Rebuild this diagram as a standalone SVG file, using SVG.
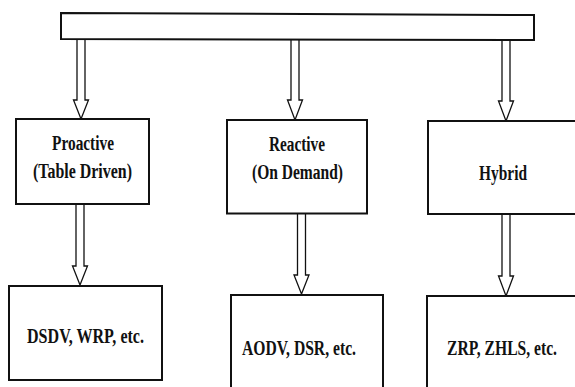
<svg xmlns="http://www.w3.org/2000/svg" width="575" height="387" viewBox="0 0 575 387">
  <style>
    .box { fill: #ffffff; stroke: #111111; stroke-width: 2; }
    .arrow { fill: #ffffff; stroke: #111111; stroke-width: 1.3; stroke-linejoin: miter; }
    .lbl { font-family: "Liberation Serif", "Times New Roman", serif; font-weight: bold; font-size: 22px; fill: #111111; text-anchor: middle; }
  </style>
  <rect width="575" height="387" fill="#ffffff"/>

  <!-- connectors: hollow block arrows -->
  <g id="connectors">
    <path class="arrow" d="M77,40 V100 H73.5 L81,119 L88.5,100 H85 V40"/>
    <path class="arrow" d="M291,40 V100 H287.5 L295,120 L302.5,100 H299 V40"/>
    <path class="arrow" d="M502,40 V101 H498.5 L506,121 L513.5,101 H510 V40"/>
    <path class="arrow" d="M76,204 V266 H72.5 L80,285 L87.5,266 H84 V204"/>
    <path class="arrow" d="M297.5,214 V275 H294 L301.5,294 L309,275 H305.5 V214"/>
    <path class="arrow" d="M502,214 V276 H498.5 L506,296 L513.5,276 H510 V214"/>
  </g>

  <!-- root bar -->
  <g id="root">
    <polygon class="box" points="61,13 534,15 534,40 61,39"/>
  </g>

  <!-- labels use a condensed (x-scaled) bold serif -->
  <g id="proactive">
    <rect class="box" x="16" y="119" width="133" height="85"/>
    <text class="lbl" transform="translate(83,150) scale(0.72,1)" textLength="86" lengthAdjust="spacingAndGlyphs">Proactive</text>
    <text class="lbl" transform="translate(82.5,178) scale(0.72,1)" textLength="137.5" lengthAdjust="spacingAndGlyphs">(Table Driven)</text>
  </g>

  <g id="reactive">
    <rect class="box" x="227" y="120" width="140" height="93.5"/>
    <text class="lbl" transform="translate(297,151) scale(0.72,1)" textLength="78" lengthAdjust="spacingAndGlyphs">Reactive</text>
    <text class="lbl" transform="translate(297.5,179) scale(0.72,1)" textLength="126.5" lengthAdjust="spacingAndGlyphs">(On Demand)</text>
  </g>

  <g id="hybrid">
    <rect class="box" x="428" y="121" width="150" height="93"/>
    <text class="lbl" transform="translate(503,180) scale(0.72,1)" textLength="66.7" lengthAdjust="spacingAndGlyphs">Hybrid</text>
  </g>

  <g id="proactive-protocols">
    <rect class="box" x="9" y="286" width="153" height="94"/>
    <text class="lbl" transform="translate(85.5,343) scale(0.72,1)" textLength="162.5" lengthAdjust="spacingAndGlyphs">DSDV, WRP, etc.</text>
  </g>

  <g id="reactive-protocols">
    <rect class="box" x="231" y="295" width="152" height="100"/>
    <text class="lbl" transform="translate(299,355) scale(0.72,1)" textLength="158.3" lengthAdjust="spacingAndGlyphs">AODV, DSR, etc.</text>
  </g>

  <g id="hybrid-protocols">
    <rect class="box" x="427" y="296" width="151" height="100"/>
    <text class="lbl" transform="translate(502,355) scale(0.72,1)" textLength="152.8" lengthAdjust="spacingAndGlyphs">ZRP, ZHLS, etc.</text>
  </g>
</svg>
